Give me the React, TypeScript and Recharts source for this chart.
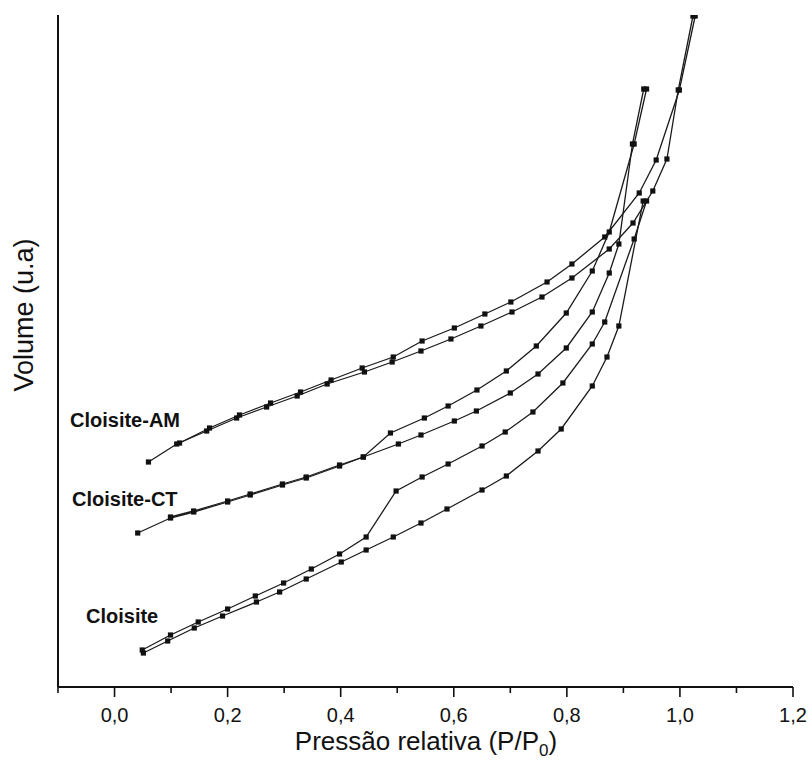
import { Line, LineChart, XAxis, YAxis } from "recharts";

const FONT = '"Liberation Sans", Arial, Helvetica, sans-serif';

// Relative pressure P/P0 and volume (arbitrary units).
// ads = adsorption branch, des = desorption branch.
const cloisiteAdsP = [0.051, 0.094, 0.141, 0.191, 0.251, 0.292, 0.339, 0.401, 0.445, 0.493, 0.542, 0.588, 0.65, 0.693, 0.749, 0.79, 0.845, 0.871, 0.892, 0.935];
const cloisiteAdsV = [6.8, 9.2, 11.8, 14.2, 17.0, 19.0, 21.6, 25.0, 27.4, 30.0, 32.8, 35.6, 39.4, 42.2, 47.2, 51.6, 60.2, 66.0, 72.2, 97.2];

const cloisiteDesP = [0.941, 0.919, 0.867, 0.845, 0.793, 0.74, 0.691, 0.65, 0.59, 0.544, 0.498, 0.445, 0.398, 0.348, 0.299, 0.249, 0.2, 0.148, 0.099, 0.049];
const cloisiteDesV = [97.2, 89.6, 73.0, 68.6, 60.8, 55.0, 51.0, 48.2, 44.6, 42.0, 39.2, 30.0, 26.6, 23.6, 20.8, 18.2, 15.6, 13.0, 10.4, 7.4];

const ctAdsP = [0.041, 0.099, 0.14, 0.2, 0.24, 0.297, 0.339, 0.398, 0.44, 0.502, 0.542, 0.601, 0.64, 0.7, 0.749, 0.799, 0.845, 0.875, 0.892, 0.916, 0.936];
const ctAdsV = [30.8, 33.8, 35.0, 37.0, 38.4, 40.4, 41.8, 44.2, 46.0, 48.6, 50.4, 53.2, 55.2, 58.8, 62.6, 67.8, 75.0, 82.8, 88.6, 108.6, 119.6];

const ctDesP = [0.941, 0.919, 0.875, 0.845, 0.799, 0.746, 0.693, 0.641, 0.59, 0.548, 0.488, 0.44, 0.398, 0.339, 0.297, 0.24, 0.2, 0.14, 0.099];
const ctDesV = [119.6, 108.6, 91.0, 83.2, 74.8, 68.2, 63.2, 59.4, 56.2, 53.8, 50.8, 46.0, 44.4, 42.0, 40.6, 38.6, 37.2, 35.2, 34.0];

const amAdsP = [0.06, 0.11, 0.163, 0.216, 0.269, 0.323, 0.376, 0.442, 0.491, 0.542, 0.595, 0.648, 0.703, 0.756, 0.809, 0.875, 0.917, 0.952, 0.977, 0.997, 1.023];
const amAdsV = [45.0, 48.6, 51.2, 53.8, 56.0, 58.2, 60.6, 63.0, 65.0, 67.2, 69.6, 72.2, 75.0, 78.0, 81.8, 87.6, 92.8, 99.2, 105.6, 119.4, 134.2];

const amDesP = [1.027, 0.999, 0.958, 0.928, 0.867, 0.809, 0.765, 0.701, 0.655, 0.601, 0.544, 0.493, 0.438, 0.383, 0.329, 0.276, 0.221, 0.168, 0.115];
const amDesV = [134.2, 119.4, 105.4, 98.8, 90.0, 84.6, 81.0, 77.0, 74.6, 71.8, 69.2, 66.0, 63.8, 61.4, 59.0, 56.8, 54.4, 51.8, 48.8];

const xTicks = [-0.1, 0, 0.1, 0.2, 0.3, 0.4, 0.5, 0.6, 0.7, 0.8, 0.9, 1.0, 1.1, 1.2];

const zip = (p: number[], v: number[]) => p.map((x, i) => ({ p: x, v: v[i] }));

const series = [
  { key: "cloisite-ads", data: zip(cloisiteAdsP, cloisiteAdsV) },
  { key: "cloisite-des", data: zip(cloisiteDesP, cloisiteDesV) },
  { key: "ct-ads", data: zip(ctAdsP, ctAdsV) },
  { key: "ct-des", data: zip(ctDesP, ctDesV) },
  { key: "am-ads", data: zip(amAdsP, amAdsV) },
  { key: "am-des", data: zip(amDesP, amDesV) },
];

function SquareDot(props: any) {
  const { cx, cy } = props;
  if (cx == null || cy == null) return null;
  return <rect x={cx - 2.6} y={cy - 2.6} width={5.2} height={5.2} fill="#111" />;
}

function PressureTick({ x, y, payload }: any) {
  const v = payload.value as number;
  const major = Math.round(v * 10) % 2 === 0;
  return (
    <g>
      <line x1={x} x2={x} y1={y} y2={y + (major ? 10 : 6)} stroke="#111" strokeWidth={1.6} />
      {major && (
        <text x={x} y={y + 35} textAnchor="middle" fontSize={20} fontFamily={FONT} fill="#111">
          {v.toFixed(1).replace(".", ",")}
        </text>
      )}
    </g>
  );
}

export default function App() {
  return (
    <div style={{ position: "absolute", left: 0, top: 0, width: 811, height: 760, background: "#fff" }}>
      <LineChart width={811} height={760} margin={{ top: 15, right: 18, bottom: 0, left: 0 }}>
        <XAxis
          dataKey="p"
          type="number"
          domain={[-0.1, 1.2]}
          ticks={xTicks}
          interval={0}
          allowDataOverflow
          height={73}
          tickSize={0}
          tickMargin={0}
          tickLine={false}
          tick={<PressureTick />}
          axisLine={{ stroke: "#111", strokeWidth: 2 }}
        />
        <YAxis
          type="number"
          domain={[0, 134.4]}
          allowDataOverflow
          width={58}
          tick={false}
          tickLine={false}
          axisLine={{ stroke: "#111", strokeWidth: 2 }}
        />
        {series.map((s) => (
          <Line
            key={s.key}
            data={s.data}
            dataKey="v"
            type="linear"
            stroke="#1a1a1a"
            strokeWidth={1.3}
            dot={<SquareDot />}
            activeDot={false}
            isAnimationActive={false}
          />
        ))}
      </LineChart>
      <svg
        width={811}
        height={760}
        style={{ position: "absolute", left: 0, top: 0, pointerEvents: "none" }}
        fontFamily={FONT}
        fill="#111"
      >
        <text
          x={24}
          y={315}
          transform="rotate(-90 24 315)"
          textAnchor="middle"
          dominantBaseline="central"
          fontSize={27}
        >
          Volume (u.a)
        </text>
        <text x={426} y={750} textAnchor="middle" fontSize={26}>
          Pressão relativa (P/P<tspan dy={6} fontSize={17}>0</tspan>
          <tspan dy={-6}>)</tspan>
        </text>
        <text x={70} y={427} fontSize={20} fontWeight="bold">Cloisite-AM</text>
        <text x={72} y={506} fontSize={20} fontWeight="bold">Cloisite-CT</text>
        <text x={86} y={623} fontSize={20} fontWeight="bold">Cloisite</text>
      </svg>
    </div>
  );
}
